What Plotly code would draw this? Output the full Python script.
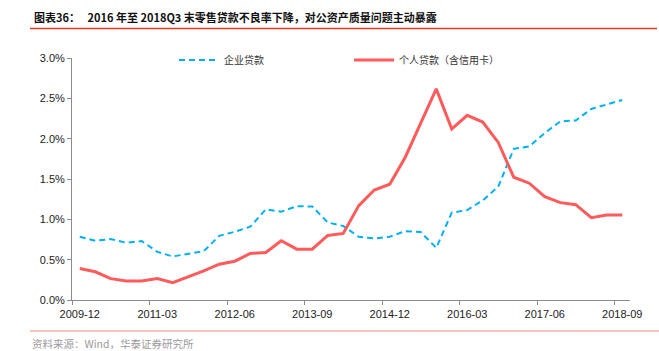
import plotly.graph_objects as go

quarters = [
    "2009-12", "2010-03", "2010-06", "2010-09", "2010-12",
    "2011-03", "2011-06", "2011-09", "2011-12",
    "2012-03", "2012-06", "2012-09", "2012-12",
    "2013-03", "2013-06", "2013-09", "2013-12",
    "2014-03", "2014-06", "2014-09", "2014-12",
    "2015-03", "2015-06", "2015-09", "2015-12",
    "2016-03", "2016-06", "2016-09", "2016-12",
    "2017-03", "2017-06", "2017-09", "2017-12",
    "2018-03", "2018-06", "2018-09",
]

corporate_npl = [
    0.784, 0.734, 0.755, 0.710, 0.730,
    0.597, 0.540, 0.572, 0.605,
    0.796, 0.846, 0.908, 1.124,
    1.095, 1.162, 1.160, 0.962,
    0.917, 0.784, 0.763, 0.784,
    0.854, 0.842, 0.647, 1.082,
    1.116, 1.235, 1.405, 1.874,
    1.903, 2.070, 2.214, 2.226,
    2.368, 2.420, 2.480,
]

personal_npl = [
    0.390, 0.350, 0.265, 0.236, 0.236,
    0.265, 0.215, 0.286, 0.360,
    0.444, 0.481, 0.577, 0.590,
    0.734, 0.630, 0.630, 0.800,
    0.826, 1.170, 1.364, 1.435,
    1.770, 2.194, 2.617, 2.120,
    2.290, 2.206, 1.953, 1.522,
    1.448, 1.281, 1.207, 1.182,
    1.020, 1.053, 1.053,
]

series_names = ["企业贷款", "个人贷款（含信用卡）"]
title_text = "图表36：   2016 年至 2018Q3 末零售贷款不良率下降，对公资产质量问题主动暴露"
source_text = "资料来源：Wind，华泰证券研究所"

idx = list(range(len(quarters)))
label_step = 5
label_vals = idx[::label_step]
label_text = quarters[::label_step]
boundary_vals = [v - 0.5 for v in label_vals]

W, H = 659, 351
ML, MR, MT, MB = 72, 29, 58, 51
pw = W - ML - MR
ph = H - MT - MB

def px_x(x):
    return (x - ML) / pw

def px_y(y):
    return (H - MB - y) / ph

cjk = "Noto Sans CJK SC, Liberation Sans, sans-serif"
latin = "Liberation Sans, Arial, sans-serif"

fig = go.Figure()
fig.add_trace(go.Scatter(
    x=idx, y=corporate_npl, name=series_names[0], mode="lines",
    line=dict(color="#00b0f0", width=2, dash="6px,4px"),
))
fig.add_trace(go.Scatter(
    x=idx, y=personal_npl, name=series_names[1], mode="lines",
    line=dict(color="#ff5b5b", width=3),
    xaxis="x2",
))

xr = [-0.5, len(quarters) - 0.5]
fig.update_layout(
    width=W, height=H,
    margin=dict(l=ML, r=MR, t=MT, b=MB),
    paper_bgcolor="white", plot_bgcolor="white",
    showlegend=True,
    legend=dict(
        orientation="h", x=px_x(174), y=px_y(60), xanchor="left", yanchor="middle",
        font=dict(family=cjk, size=10, color="#333333"),
        itemwidth=40, entrywidth=120, entrywidthmode="pixels",
        bgcolor="rgba(0,0,0,0)", tracegroupgap=0,
    ),
    xaxis=dict(
        range=xr, showgrid=False, zeroline=False,
        showline=True, linecolor="#8c8c8c", linewidth=1,
        tickmode="array", tickvals=boundary_vals, ticktext=["" for _ in boundary_vals],
        ticks="outside", ticklen=4, tickcolor="#8c8c8c", tickwidth=1,
    ),
    xaxis2=dict(
        range=xr, overlaying="x", anchor="y", side="bottom",
        showgrid=False, zeroline=False, showline=False,
        tickmode="array", tickvals=label_vals, ticktext=label_text,
        ticks="outside", ticklen=4, tickcolor="rgba(0,0,0,0)",
        tickfont=dict(family=latin, size=11, color="#222222"),
    ),
    yaxis=dict(
        range=[0, 3], showgrid=False, zeroline=False,
        showline=True, linecolor="#8c8c8c", linewidth=1,
        tickmode="linear", tick0=0, dtick=0.5,
        tickformat=".1f", ticksuffix="%",
        ticks="outside", ticklen=4, tickcolor="#8c8c8c",
        tickfont=dict(family=latin, size=11, color="#222222"),
    ),
    annotations=[
        dict(text="<b>" + title_text + "</b>", x=px_x(32), y=px_y(17),
             xref="paper", yref="paper", xanchor="left", yanchor="middle",
             showarrow=False, font=dict(family=cjk, size=11, color="#111111")),
        dict(text=source_text, x=px_x(30), y=px_y(343),
             xref="paper", yref="paper", xanchor="left", yanchor="middle",
             showarrow=False, font=dict(family=cjk, size=10.5, color="#9a9a9a")),
    ],
    shapes=[
        dict(type="line", xref="paper", yref="paper",
             x0=px_x(30), x1=px_x(657), y0=px_y(28.5), y1=px_y(28.5),
             line=dict(color="#e8381f", width=1.5)),
        dict(type="line", xref="paper", yref="paper",
             x0=px_x(30), x1=px_x(659), y0=px_y(331), y1=px_y(331),
             line=dict(color="#f08a80", width=1)),
    ],
)

fig.write_html("out.html")
